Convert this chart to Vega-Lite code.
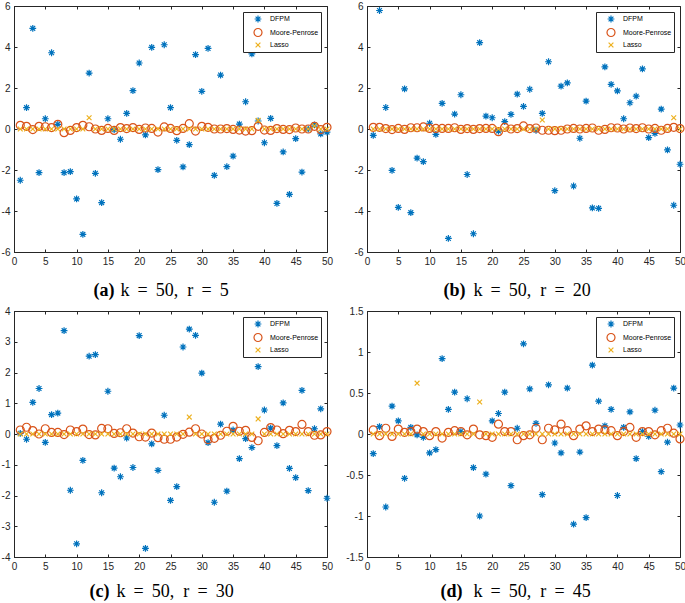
{
"$schema": "https://vega.github.io/schema/vega-lite/v6.json",
"padding": 0,
"datasets": {
"a": [
{"i":1,"DFPM":-2.50,"Moore-Penrose":0.18,"Lasso":0},
{"i":2,"DFPM":1.04,"Moore-Penrose":0.13,"Lasso":0},
{"i":3,"DFPM":4.91,"Moore-Penrose":-0.03,"Lasso":0},
{"i":4,"DFPM":-2.13,"Moore-Penrose":0.13,"Lasso":0},
{"i":5,"DFPM":0.50,"Moore-Penrose":0.11,"Lasso":0},
{"i":6,"DFPM":3.72,"Moore-Penrose":0.07,"Lasso":0},
{"i":7,"DFPM":0.23,"Moore-Penrose":0.23,"Lasso":0},
{"i":8,"DFPM":-2.13,"Moore-Penrose":-0.18,"Lasso":0},
{"i":9,"DFPM":-2.08,"Moore-Penrose":-0.07,"Lasso":0},
{"i":10,"DFPM":-3.41,"Moore-Penrose":0.07,"Lasso":0},
{"i":11,"DFPM":-5.14,"Moore-Penrose":0.18,"Lasso":0},
{"i":12,"DFPM":2.73,"Moore-Penrose":0.11,"Lasso":0.55},
{"i":13,"DFPM":-2.16,"Moore-Penrose":0,"Lasso":0},
{"i":14,"DFPM":-3.59,"Moore-Penrose":-0.07,"Lasso":0},
{"i":15,"DFPM":0.50,"Moore-Penrose":0.03,"Lasso":0},
{"i":16,"DFPM":-0.03,"Moore-Penrose":-0.07,"Lasso":0},
{"i":17,"DFPM":-0.50,"Moore-Penrose":0.07,"Lasso":0},
{"i":18,"DFPM":0.76,"Moore-Penrose":0.02,"Lasso":0},
{"i":19,"DFPM":1.87,"Moore-Penrose":0.07,"Lasso":0},
{"i":20,"DFPM":3.22,"Moore-Penrose":-0.02,"Lasso":0},
{"i":21,"DFPM":-0.29,"Moore-Penrose":0.05,"Lasso":0},
{"i":22,"DFPM":3.98,"Moore-Penrose":0.03,"Lasso":0},
{"i":23,"DFPM":-1.98,"Moore-Penrose":-0.15,"Lasso":0},
{"i":24,"DFPM":4.11,"Moore-Penrose":0.10,"Lasso":0},
{"i":25,"DFPM":1.04,"Moore-Penrose":0.03,"Lasso":0},
{"i":26,"DFPM":-0.55,"Moore-Penrose":-0.08,"Lasso":0},
{"i":27,"DFPM":-1.85,"Moore-Penrose":0.03,"Lasso":0},
{"i":28,"DFPM":-0.76,"Moore-Penrose":0.26,"Lasso":0},
{"i":29,"DFPM":3.63,"Moore-Penrose":-0.10,"Lasso":0},
{"i":30,"DFPM":1.84,"Moore-Penrose":0.13,"Lasso":0},
{"i":31,"DFPM":3.93,"Moore-Penrose":0.08,"Lasso":0},
{"i":32,"DFPM":-2.26,"Moore-Penrose":0,"Lasso":0},
{"i":33,"DFPM":2.63,"Moore-Penrose":0,"Lasso":0},
{"i":34,"DFPM":-1.84,"Moore-Penrose":0.02,"Lasso":0},
{"i":35,"DFPM":-1.32,"Moore-Penrose":-0.02,"Lasso":0},
{"i":36,"DFPM":0.24,"Moore-Penrose":-0.05,"Lasso":0},
{"i":37,"DFPM":1.33,"Moore-Penrose":-0.10,"Lasso":0},
{"i":38,"DFPM":3.66,"Moore-Penrose":-0.08,"Lasso":0},
{"i":39,"DFPM":0.39,"Moore-Penrose":0.13,"Lasso":0.42},
{"i":40,"DFPM":-0.67,"Moore-Penrose":-0.05,"Lasso":0},
{"i":41,"DFPM":0.52,"Moore-Penrose":-0.07,"Lasso":0},
{"i":42,"DFPM":-3.63,"Moore-Penrose":0.02,"Lasso":0},
{"i":43,"DFPM":-1.12,"Moore-Penrose":-0.02,"Lasso":0},
{"i":44,"DFPM":-3.19,"Moore-Penrose":-0.03,"Lasso":0},
{"i":45,"DFPM":-0.47,"Moore-Penrose":0.05,"Lasso":0},
{"i":46,"DFPM":-2.10,"Moore-Penrose":0,"Lasso":0},
{"i":47,"DFPM":0.00,"Moore-Penrose":0,"Lasso":0},
{"i":48,"DFPM":0.20,"Moore-Penrose":0.13,"Lasso":0.15},
{"i":49,"DFPM":-0.24,"Moore-Penrose":-0.03,"Lasso":0},
{"i":50,"DFPM":-0.15,"Moore-Penrose":0.08,"Lasso":0}
],
"b": [
{"i":1,"DFPM":-0.31,"Moore-Penrose":0.08,"Lasso":0},
{"i":2,"DFPM":5.78,"Moore-Penrose":0.08,"Lasso":0},
{"i":3,"DFPM":1.05,"Moore-Penrose":0.02,"Lasso":0},
{"i":4,"DFPM":-2.02,"Moore-Penrose":-0.03,"Lasso":0},
{"i":5,"DFPM":-3.82,"Moore-Penrose":0.03,"Lasso":0},
{"i":6,"DFPM":1.96,"Moore-Penrose":-0.02,"Lasso":0},
{"i":7,"DFPM":-4.08,"Moore-Penrose":0.06,"Lasso":0},
{"i":8,"DFPM":-1.42,"Moore-Penrose":0.06,"Lasso":0},
{"i":9,"DFPM":-1.59,"Moore-Penrose":0.10,"Lasso":0},
{"i":10,"DFPM":0.28,"Moore-Penrose":0.03,"Lasso":0},
{"i":11,"DFPM":-0.26,"Moore-Penrose":0.03,"Lasso":0},
{"i":12,"DFPM":1.25,"Moore-Penrose":0.03,"Lasso":0},
{"i":13,"DFPM":-5.34,"Moore-Penrose":0.03,"Lasso":0},
{"i":14,"DFPM":0.73,"Moore-Penrose":0.06,"Lasso":0},
{"i":15,"DFPM":1.67,"Moore-Penrose":-0.02,"Lasso":0},
{"i":16,"DFPM":-2.22,"Moore-Penrose":0.02,"Lasso":0},
{"i":17,"DFPM":-5.11,"Moore-Penrose":-0.02,"Lasso":0},
{"i":18,"DFPM":4.21,"Moore-Penrose":0.02,"Lasso":0},
{"i":19,"DFPM":0.63,"Moore-Penrose":0.03,"Lasso":0},
{"i":20,"DFPM":0.55,"Moore-Penrose":0.03,"Lasso":0},
{"i":21,"DFPM":-0.10,"Moore-Penrose":-0.13,"Lasso":0},
{"i":22,"DFPM":0.36,"Moore-Penrose":0.08,"Lasso":0},
{"i":23,"DFPM":0.71,"Moore-Penrose":0,"Lasso":0},
{"i":24,"DFPM":1.70,"Moore-Penrose":0.02,"Lasso":0},
{"i":25,"DFPM":1.10,"Moore-Penrose":0.15,"Lasso":0},
{"i":26,"DFPM":1.94,"Moore-Penrose":0.02,"Lasso":0},
{"i":27,"DFPM":-0.06,"Moore-Penrose":0.05,"Lasso":0},
{"i":28,"DFPM":0.76,"Moore-Penrose":-0.06,"Lasso":0.44},
{"i":29,"DFPM":3.28,"Moore-Penrose":-0.06,"Lasso":0},
{"i":30,"DFPM":-3.01,"Moore-Penrose":-0.08,"Lasso":0},
{"i":31,"DFPM":2.09,"Moore-Penrose":-0.06,"Lasso":0},
{"i":32,"DFPM":2.25,"Moore-Penrose":0,"Lasso":0},
{"i":33,"DFPM":-2.78,"Moore-Penrose":0.03,"Lasso":0},
{"i":34,"DFPM":-0.45,"Moore-Penrose":0,"Lasso":0},
{"i":35,"DFPM":1.36,"Moore-Penrose":0.03,"Lasso":0},
{"i":36,"DFPM":-3.85,"Moore-Penrose":0.05,"Lasso":0},
{"i":37,"DFPM":-3.87,"Moore-Penrose":-0.06,"Lasso":0},
{"i":38,"DFPM":3.03,"Moore-Penrose":-0.02,"Lasso":0},
{"i":39,"DFPM":2.18,"Moore-Penrose":0.06,"Lasso":0},
{"i":40,"DFPM":1.86,"Moore-Penrose":0.05,"Lasso":0},
{"i":41,"DFPM":0.50,"Moore-Penrose":0,"Lasso":0},
{"i":42,"DFPM":1.28,"Moore-Penrose":0.05,"Lasso":0},
{"i":43,"DFPM":1.60,"Moore-Penrose":0.02,"Lasso":0},
{"i":44,"DFPM":2.93,"Moore-Penrose":0.06,"Lasso":0},
{"i":45,"DFPM":-0.42,"Moore-Penrose":0,"Lasso":0},
{"i":46,"DFPM":-0.21,"Moore-Penrose":0.03,"Lasso":0},
{"i":47,"DFPM":0.97,"Moore-Penrose":-0.06,"Lasso":0},
{"i":48,"DFPM":-1.02,"Moore-Penrose":0.03,"Lasso":0},
{"i":49,"DFPM":-3.72,"Moore-Penrose":0.08,"Lasso":0.55},
{"i":50,"DFPM":-1.72,"Moore-Penrose":0.02,"Lasso":0}
],
"c": [
{"i":1,"DFPM":0.02,"Moore-Penrose":0.13,"Lasso":0},
{"i":2,"DFPM":-0.17,"Moore-Penrose":0.22,"Lasso":0},
{"i":3,"DFPM":1.03,"Moore-Penrose":0.11,"Lasso":0},
{"i":4,"DFPM":1.48,"Moore-Penrose":0,"Lasso":0},
{"i":5,"DFPM":-0.27,"Moore-Penrose":0.17,"Lasso":0},
{"i":6,"DFPM":0.63,"Moore-Penrose":0.05,"Lasso":0},
{"i":7,"DFPM":0.68,"Moore-Penrose":0.05,"Lasso":0},
{"i":8,"DFPM":3.36,"Moore-Penrose":-0.02,"Lasso":0},
{"i":9,"DFPM":-1.83,"Moore-Penrose":0.13,"Lasso":0},
{"i":10,"DFPM":-3.57,"Moore-Penrose":0.08,"Lasso":0},
{"i":11,"DFPM":-0.86,"Moore-Penrose":0.16,"Lasso":0},
{"i":12,"DFPM":2.53,"Moore-Penrose":-0.02,"Lasso":0},
{"i":13,"DFPM":2.58,"Moore-Penrose":-0.03,"Lasso":0},
{"i":14,"DFPM":-1.91,"Moore-Penrose":0.18,"Lasso":0},
{"i":15,"DFPM":1.39,"Moore-Penrose":0.17,"Lasso":0},
{"i":16,"DFPM":-1.11,"Moore-Penrose":0.02,"Lasso":0},
{"i":17,"DFPM":-1.39,"Moore-Penrose":0.04,"Lasso":0},
{"i":18,"DFPM":-0.13,"Moore-Penrose":0.17,"Lasso":0},
{"i":19,"DFPM":-1.09,"Moore-Penrose":0.03,"Lasso":0},
{"i":20,"DFPM":3.20,"Moore-Penrose":-0.09,"Lasso":0},
{"i":21,"DFPM":-3.72,"Moore-Penrose":-0.10,"Lasso":0},
{"i":22,"DFPM":-0.32,"Moore-Penrose":0.03,"Lasso":0},
{"i":23,"DFPM":-1.18,"Moore-Penrose":-0.12,"Lasso":0},
{"i":24,"DFPM":0.61,"Moore-Penrose":-0.17,"Lasso":0},
{"i":25,"DFPM":-2.16,"Moore-Penrose":-0.17,"Lasso":0},
{"i":26,"DFPM":-1.71,"Moore-Penrose":-0.10,"Lasso":0},
{"i":27,"DFPM":2.83,"Moore-Penrose":-0.01,"Lasso":0},
{"i":28,"DFPM":3.41,"Moore-Penrose":0.06,"Lasso":0.55},
{"i":29,"DFPM":3.21,"Moore-Penrose":0.17,"Lasso":0},
{"i":30,"DFPM":1.98,"Moore-Penrose":0,"Lasso":0},
{"i":31,"DFPM":-0.28,"Moore-Penrose":-0.18,"Lasso":0},
{"i":32,"DFPM":-2.22,"Moore-Penrose":-0.14,"Lasso":0},
{"i":33,"DFPM":0.32,"Moore-Penrose":-0.04,"Lasso":0},
{"i":34,"DFPM":-1.86,"Moore-Penrose":0.09,"Lasso":0},
{"i":35,"DFPM":0.13,"Moore-Penrose":0.25,"Lasso":0},
{"i":36,"DFPM":-0.80,"Moore-Penrose":0.09,"Lasso":0},
{"i":37,"DFPM":-0.15,"Moore-Penrose":0.12,"Lasso":0},
{"i":38,"DFPM":-0.44,"Moore-Penrose":-0.11,"Lasso":0},
{"i":39,"DFPM":2.19,"Moore-Penrose":-0.22,"Lasso":0.49},
{"i":40,"DFPM":0.78,"Moore-Penrose":0.05,"Lasso":0},
{"i":41,"DFPM":0.19,"Moore-Penrose":0.21,"Lasso":0},
{"i":42,"DFPM":-0.38,"Moore-Penrose":0.13,"Lasso":0},
{"i":43,"DFPM":1.01,"Moore-Penrose":0.01,"Lasso":0},
{"i":44,"DFPM":-1.12,"Moore-Penrose":0.12,"Lasso":0},
{"i":45,"DFPM":-1.42,"Moore-Penrose":0.08,"Lasso":0},
{"i":46,"DFPM":1.42,"Moore-Penrose":0.31,"Lasso":0},
{"i":47,"DFPM":-1.84,"Moore-Penrose":0.08,"Lasso":0},
{"i":48,"DFPM":0.17,"Moore-Penrose":-0.04,"Lasso":0},
{"i":49,"DFPM":0.82,"Moore-Penrose":-0.03,"Lasso":0},
{"i":50,"DFPM":-2.09,"Moore-Penrose":0.08,"Lasso":0}
],
"d": [
{"i":1,"DFPM":-0.24,"Moore-Penrose":0.05,"Lasso":0},
{"i":2,"DFPM":0.09,"Moore-Penrose":-0.02,"Lasso":0},
{"i":3,"DFPM":-0.89,"Moore-Penrose":0.07,"Lasso":0},
{"i":4,"DFPM":0.34,"Moore-Penrose":-0.03,"Lasso":0},
{"i":5,"DFPM":0.16,"Moore-Penrose":0.06,"Lasso":0},
{"i":6,"DFPM":-0.54,"Moore-Penrose":0.02,"Lasso":0},
{"i":7,"DFPM":0.08,"Moore-Penrose":0.03,"Lasso":0},
{"i":8,"DFPM":-0.01,"Moore-Penrose":0.06,"Lasso":0.62},
{"i":9,"DFPM":-0.04,"Moore-Penrose":0.03,"Lasso":0},
{"i":10,"DFPM":-0.23,"Moore-Penrose":-0.02,"Lasso":0},
{"i":11,"DFPM":-0.19,"Moore-Penrose":0.03,"Lasso":0},
{"i":12,"DFPM":0.92,"Moore-Penrose":-0.05,"Lasso":0},
{"i":13,"DFPM":0.30,"Moore-Penrose":0.02,"Lasso":0},
{"i":14,"DFPM":0.51,"Moore-Penrose":0.04,"Lasso":0},
{"i":15,"DFPM":0.03,"Moore-Penrose":0.03,"Lasso":0},
{"i":16,"DFPM":0.43,"Moore-Penrose":-0.01,"Lasso":0},
{"i":17,"DFPM":-0.41,"Moore-Penrose":0.06,"Lasso":0},
{"i":18,"DFPM":-1.00,"Moore-Penrose":-0.01,"Lasso":0.39},
{"i":19,"DFPM":-0.49,"Moore-Penrose":-0.02,"Lasso":0},
{"i":20,"DFPM":0.16,"Moore-Penrose":-0.04,"Lasso":0},
{"i":21,"DFPM":0.25,"Moore-Penrose":0.12,"Lasso":0},
{"i":22,"DFPM":0.51,"Moore-Penrose":0.03,"Lasso":0},
{"i":23,"DFPM":-0.63,"Moore-Penrose":0.03,"Lasso":0},
{"i":24,"DFPM":0.07,"Moore-Penrose":-0.07,"Lasso":0},
{"i":25,"DFPM":1.10,"Moore-Penrose":-0.02,"Lasso":0},
{"i":26,"DFPM":0.55,"Moore-Penrose":-0.01,"Lasso":0},
{"i":27,"DFPM":0.13,"Moore-Penrose":0.07,"Lasso":0},
{"i":28,"DFPM":-0.74,"Moore-Penrose":-0.07,"Lasso":0},
{"i":29,"DFPM":0.60,"Moore-Penrose":0.07,"Lasso":0},
{"i":30,"DFPM":-0.11,"Moore-Penrose":0.05,"Lasso":0},
{"i":31,"DFPM":-0.23,"Moore-Penrose":0.12,"Lasso":0},
{"i":32,"DFPM":0.56,"Moore-Penrose":0.04,"Lasso":0},
{"i":33,"DFPM":-1.10,"Moore-Penrose":-0.02,"Lasso":0},
{"i":34,"DFPM":-0.22,"Moore-Penrose":0.06,"Lasso":0},
{"i":35,"DFPM":-1.02,"Moore-Penrose":0.10,"Lasso":0},
{"i":36,"DFPM":0.84,"Moore-Penrose":0.03,"Lasso":0},
{"i":37,"DFPM":0.40,"Moore-Penrose":0.06,"Lasso":0},
{"i":38,"DFPM":0.10,"Moore-Penrose":0.05,"Lasso":0},
{"i":39,"DFPM":0.30,"Moore-Penrose":0.04,"Lasso":0},
{"i":40,"DFPM":-0.75,"Moore-Penrose":-0.02,"Lasso":0},
{"i":41,"DFPM":0.08,"Moore-Penrose":0.03,"Lasso":0},
{"i":42,"DFPM":0.27,"Moore-Penrose":0.08,"Lasso":0},
{"i":43,"DFPM":-0.30,"Moore-Penrose":-0.04,"Lasso":0},
{"i":44,"DFPM":0.03,"Moore-Penrose":0.03,"Lasso":0},
{"i":45,"DFPM":-0.03,"Moore-Penrose":0.03,"Lasso":0},
{"i":46,"DFPM":0.29,"Moore-Penrose":-0.01,"Lasso":0},
{"i":47,"DFPM":-0.46,"Moore-Penrose":0.04,"Lasso":0},
{"i":48,"DFPM":-0.10,"Moore-Penrose":0.07,"Lasso":0},
{"i":49,"DFPM":0.56,"Moore-Penrose":0.01,"Lasso":0},
{"i":50,"DFPM":0.11,"Moore-Penrose":-0.06,"Lasso":0}
]
},
"concat": [
{
"width": 313, "height": 246,
"data": {"name": "a"},
"transform": [{"fold": ["DFPM", "Moore-Penrose", "Lasso"], "as": ["s", "v"]}],
"layer": [
{"mark": {"type": "point", "filled": false, "size": 64, "strokeWidth": 1.2, "opacity": 1},
"encoding": {
"x": {"field": "i", "type": "quantitative", "scale": {"domain": [0, 50], "nice": false, "zero": false}, "axis": {"values": [0,5,10,15,20,25,30,35,40,45,50], "title": "k\u00a0\u2009=\u00a0\u200950,\u00a0\u00a0r\u00a0\u2009=\u00a0\u20095", "titleX": 106, "titleY": 43}},
"y": {"field": "v", "type": "quantitative", "scale": {"domain": [-6, 6], "nice": false}, "axis": {"values": [-6,-4,-2,0,2,4,6], "format": "~g", "title": "(a)", "titleX": 79, "titleY": 289, "titleFontWeight": "bold"}},
"color": {"field": "s", "type": "nominal", "title": null, "scale": {"domain": ["DFPM", "Moore-Penrose", "Lasso"], "range": ["#0072BD", "#D95319", "#EDB120"]}},
"shape": {"field": "s", "type": "nominal", "title": null, "scale": {"domain": ["DFPM", "Moore-Penrose", "Lasso"], "range": ["M-0.85,0L0.85,0M0,-0.85L0,0.85M-0.6,-0.6L0.6,0.6M-0.6,0.6L0.6,-0.6", "circle", "M-0.6,-0.6L0.6,0.6M-0.6,0.6L0.6,-0.6"]}}
}},
{"mark": {"type": "point", "opacity": 0},
"encoding": {
"x": {"field": "i", "type": "quantitative", "axis": {"orient": "top", "values": [0,5,10,15,20,25,30,35,40,45,50], "labels": false, "domain": false, "title": null}},
"y": {"field": "v", "type": "quantitative", "axis": {"orient": "right", "values": [-6,-4,-2,0,2,4,6], "labels": false, "domain": false, "title": null}}
}}
],
"resolve": {"axis": {"x": "independent", "y": "independent"}}
},
{
"width": 313, "height": 246,
"data": {"name": "b"},
"transform": [{"fold": ["DFPM", "Moore-Penrose", "Lasso"], "as": ["s", "v"]}],
"layer": [
{"mark": {"type": "point", "filled": false, "size": 64, "strokeWidth": 1.2, "opacity": 1},
"encoding": {
"x": {"field": "i", "type": "quantitative", "scale": {"domain": [0, 50], "nice": false, "zero": false}, "axis": {"values": [0,5,10,15,20,25,30,35,40,45,50], "title": "k\u00a0\u2009=\u00a0\u200950,\u00a0\u00a0r\u00a0\u2009=\u00a0\u200920", "titleX": 106, "titleY": 43}},
"y": {"field": "v", "type": "quantitative", "scale": {"domain": [-6, 6], "nice": false}, "axis": {"values": [-6,-4,-2,0,2,4,6], "format": "~g", "title": "(b)", "titleX": 76, "titleY": 289, "titleFontWeight": "bold"}},
"color": {"field": "s", "type": "nominal", "title": null, "scale": {"domain": ["DFPM", "Moore-Penrose", "Lasso"], "range": ["#0072BD", "#D95319", "#EDB120"]}},
"shape": {"field": "s", "type": "nominal", "title": null, "scale": {"domain": ["DFPM", "Moore-Penrose", "Lasso"], "range": ["M-0.85,0L0.85,0M0,-0.85L0,0.85M-0.6,-0.6L0.6,0.6M-0.6,0.6L0.6,-0.6", "circle", "M-0.6,-0.6L0.6,0.6M-0.6,0.6L0.6,-0.6"]}}
}},
{"mark": {"type": "point", "opacity": 0},
"encoding": {
"x": {"field": "i", "type": "quantitative", "axis": {"orient": "top", "values": [0,5,10,15,20,25,30,35,40,45,50], "labels": false, "domain": false, "title": null}},
"y": {"field": "v", "type": "quantitative", "axis": {"orient": "right", "values": [-6,-4,-2,0,2,4,6], "labels": false, "domain": false, "title": null}}
}}
],
"resolve": {"axis": {"x": "independent", "y": "independent"}}
},
{
"width": 313, "height": 246,
"data": {"name": "c"},
"transform": [{"fold": ["DFPM", "Moore-Penrose", "Lasso"], "as": ["s", "v"]}],
"layer": [
{"mark": {"type": "point", "filled": false, "size": 64, "strokeWidth": 1.2, "opacity": 1},
"encoding": {
"x": {"field": "i", "type": "quantitative", "scale": {"domain": [0, 50], "nice": false, "zero": false}, "axis": {"values": [0,5,10,15,20,25,30,35,40,45,50], "title": "k\u00a0\u2009=\u00a0\u200950,\u00a0\u00a0r\u00a0\u2009=\u00a0\u200930", "titleX": 102, "titleY": 39}},
"y": {"field": "v", "type": "quantitative", "scale": {"domain": [-4, 4], "nice": false}, "axis": {"values": [-4,-3,-2,-1,0,1,2,3,4], "format": "~g", "title": "(c)", "titleX": 75, "titleY": 285, "titleFontWeight": "bold"}},
"color": {"field": "s", "type": "nominal", "title": null, "scale": {"domain": ["DFPM", "Moore-Penrose", "Lasso"], "range": ["#0072BD", "#D95319", "#EDB120"]}},
"shape": {"field": "s", "type": "nominal", "title": null, "scale": {"domain": ["DFPM", "Moore-Penrose", "Lasso"], "range": ["M-0.85,0L0.85,0M0,-0.85L0,0.85M-0.6,-0.6L0.6,0.6M-0.6,0.6L0.6,-0.6", "circle", "M-0.6,-0.6L0.6,0.6M-0.6,0.6L0.6,-0.6"]}}
}},
{"mark": {"type": "point", "opacity": 0},
"encoding": {
"x": {"field": "i", "type": "quantitative", "axis": {"orient": "top", "values": [0,5,10,15,20,25,30,35,40,45,50], "labels": false, "domain": false, "title": null}},
"y": {"field": "v", "type": "quantitative", "axis": {"orient": "right", "values": [-4,-3,-2,-1,0,1,2,3,4], "labels": false, "domain": false, "title": null}}
}}
],
"resolve": {"axis": {"x": "independent", "y": "independent"}}
},
{
"width": 313, "height": 246,
"data": {"name": "d"},
"transform": [{"fold": ["DFPM", "Moore-Penrose", "Lasso"], "as": ["s", "v"]}],
"layer": [
{"mark": {"type": "point", "filled": false, "size": 64, "strokeWidth": 1.2, "opacity": 1},
"encoding": {
"x": {"field": "i", "type": "quantitative", "scale": {"domain": [0, 50], "nice": false, "zero": false}, "axis": {"values": [0,5,10,15,20,25,30,35,40,45,50], "title": "k\u00a0\u2009=\u00a0\u200950,\u00a0\u00a0r\u00a0\u2009=\u00a0\u200945", "titleX": 106, "titleY": 39}},
"y": {"field": "v", "type": "quantitative", "scale": {"domain": [-1.5, 1.5], "nice": false}, "axis": {"values": [-1.5,-1,-0.5,0,0.5,1,1.5], "format": "~g", "title": "(d)", "titleX": 73, "titleY": 285, "titleFontWeight": "bold"}},
"color": {"field": "s", "type": "nominal", "title": null, "scale": {"domain": ["DFPM", "Moore-Penrose", "Lasso"], "range": ["#0072BD", "#D95319", "#EDB120"]}},
"shape": {"field": "s", "type": "nominal", "title": null, "scale": {"domain": ["DFPM", "Moore-Penrose", "Lasso"], "range": ["M-0.85,0L0.85,0M0,-0.85L0,0.85M-0.6,-0.6L0.6,0.6M-0.6,0.6L0.6,-0.6", "circle", "M-0.6,-0.6L0.6,0.6M-0.6,0.6L0.6,-0.6"]}}
}},
{"mark": {"type": "point", "opacity": 0},
"encoding": {
"x": {"field": "i", "type": "quantitative", "axis": {"orient": "top", "values": [0,5,10,15,20,25,30,35,40,45,50], "labels": false, "domain": false, "title": null}},
"y": {"field": "v", "type": "quantitative", "axis": {"orient": "right", "values": [-1.5,-1,-0.5,0,0.5,1,1.5], "labels": false, "domain": false, "title": null}}
}}
],
"resolve": {"axis": {"x": "independent", "y": "independent"}}
}
],
"columns": 2,
"spacing": {"row": 5, "column": 11},
"resolve": {
"scale": {"x": "independent", "y": "independent", "color": "independent", "shape": "independent"},
"legend": {"color": "independent", "shape": "independent"}
},
"config": {
"locale": {"number": {"decimal": ".", "thousands": ",", "grouping": [3], "currency": ["$", ""], "minus": "-"}},
"view": {"stroke": "#262626", "strokeWidth": 1},
"axis": {
"labelFont": "Liberation Sans", "labelFontSize": 10, "labelColor": "#262626",
"tickColor": "#262626", "domainColor": "#262626", "tickSize": -3, "labelPadding": 7,
"grid": false, "labelFlush": false, "minExtent": 0,
"titleFont": "Liberation Serif", "titleFontSize": 18, "titleColor": "#000000", "titleFontWeight": "normal",
"titleAngle": 0, "titleAlign": "left", "titleBaseline": "alphabetic"
},
"axisY": {"titleAngle": 0, "titleAlign": "left", "titleBaseline": "alphabetic"},
"legend": {
"orient": "top-right", "offset": 6, "padding": 2, "rowPadding": 0.5, "symbolOffset": 8, "labelOffset": 7,
"labelFont": "Liberation Sans", "labelFontSize": 7, "labelColor": "#000000",
"fillColor": "white", "strokeColor": "#262626", "symbolSize": 64, "symbolStrokeWidth": 1.2, "cornerRadius": 0
}
}
}
